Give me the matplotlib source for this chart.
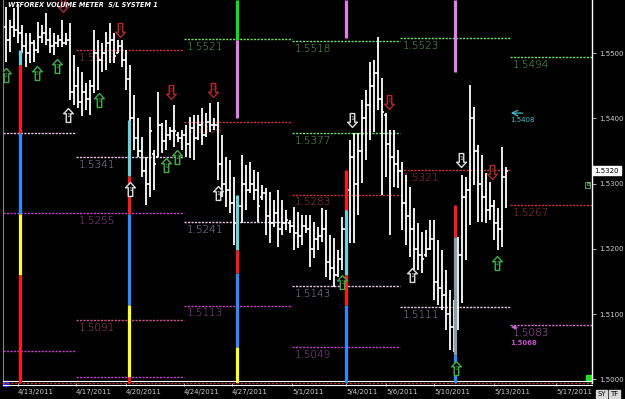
import numpy as np
import matplotlib
matplotlib.use("Agg")
import matplotlib.pyplot as plt
import matplotlib.transforms as mtransforms
from matplotlib.path import Path

# ---- price bars (one entry per bar) ----
highs = [1.5570, 1.5550, 1.5569, 1.5575, 1.5543, 1.5530, 1.5530, 1.5520, 1.5547, 1.5543,
         1.5561, 1.5538, 1.5530, 1.5527, 1.5550, 1.5530, 1.5546, 1.5497, 1.5478, 1.5471,
         1.5454, 1.5459, 1.5535, 1.5520, 1.5515, 1.5532, 1.5546, 1.5530, 1.5520, 1.5520,
         1.5504, 1.5481, 1.5436, 1.5400, 1.5371, 1.5341, 1.5402, 1.5351, 1.5440, 1.5393,
         1.5397, 1.5387, 1.5420, 1.5379, 1.5382, 1.5390, 1.5402, 1.5405, 1.5405, 1.5416,
         1.5408, 1.5423, 1.5400, 1.5425, 1.5374, 1.5341, 1.5336, 1.5310, 1.5279, 1.5344,
         1.5328, 1.5333, 1.5321, 1.5318, 1.5298, 1.5293, 1.5287, 1.5275, 1.5290, 1.5275,
         1.5260, 1.5244, 1.5264, 1.5256, 1.5252, 1.5252, 1.5252, 1.5241, 1.5234, 1.5263,
         1.5260, 1.5221, 1.5217, 1.5198, 1.5249, 1.5318, 1.5367, 1.5377, 1.5377, 1.5428,
         1.5443, 1.5486, 1.5489, 1.5524, 1.5462, 1.5408, 1.5382, 1.5382, 1.5351, 1.5333,
         1.5313, 1.5295, 1.5263, 1.5240, 1.5226, 1.5229, 1.5244, 1.5244, 1.5214, 1.5198,
         1.5168, 1.5137, 1.5122, 1.5218, 1.5313, 1.5310, 1.5451, 1.5417, 1.5359, 1.5344,
         1.5316, 1.5302, 1.5275, 1.5263, 1.5356, 1.5325]
lows = [1.5486, 1.5501, 1.5524, 1.5515, 1.5500, 1.5478, 1.5485, 1.5486, 1.5500, 1.5515,
        1.5512, 1.5500, 1.5497, 1.5509, 1.5509, 1.5512, 1.5428, 1.5420, 1.5416, 1.5403,
        1.5413, 1.5405, 1.5439, 1.5443, 1.5471, 1.5474, 1.5485, 1.5485, 1.5500, 1.5478,
        1.5443, 1.5387, 1.5351, 1.5341, 1.5310, 1.5267, 1.5279, 1.5290, 1.5341, 1.5347,
        1.5351, 1.5367, 1.5356, 1.5364, 1.5351, 1.5341, 1.5339, 1.5336, 1.5367, 1.5359,
        1.5371, 1.5379, 1.5382, 1.5306, 1.5279, 1.5264, 1.5255, 1.5206, 1.5203, 1.5240,
        1.5260, 1.5286, 1.5275, 1.5241, 1.5275, 1.5221, 1.5209, 1.5234, 1.5203, 1.5221,
        1.5229, 1.5224, 1.5198, 1.5201, 1.5206, 1.5224, 1.5172, 1.5186, 1.5198, 1.5211,
        1.5157, 1.5152, 1.5142, 1.5157, 1.5168, 1.5214, 1.5209, 1.5209, 1.5252, 1.5301,
        1.5336, 1.5367, 1.5379, 1.5413, 1.5283, 1.5310, 1.5221, 1.5295, 1.5293, 1.5229,
        1.5206, 1.5188, 1.5168, 1.5168, 1.5163, 1.5188, 1.5198, 1.5122, 1.5114, 1.5106,
        1.5076, 1.5045, 1.5042, 1.5076, 1.5117, 1.5183, 1.5237, 1.5298, 1.5241, 1.5241,
        1.5240, 1.5244, 1.5214, 1.5198, 1.5203, 1.5263]
opens = [1.5540, 1.5520, 1.5540, 1.5535, 1.5530, 1.5510, 1.5500, 1.5515, 1.5505, 1.5525,
         1.5530, 1.5520, 1.5510, 1.5515, 1.5520, 1.5515, 1.5520, 1.5440, 1.5450, 1.5425,
         1.5440, 1.5430, 1.5450, 1.5500, 1.5490, 1.5500, 1.5515, 1.5520, 1.5500, 1.5510,
         1.5490, 1.5460, 1.5400, 1.5370, 1.5350, 1.5320, 1.5300, 1.5345, 1.5341, 1.5390,
         1.5365, 1.5375, 1.5380, 1.5375, 1.5370, 1.5375, 1.5360, 1.5385, 1.5370, 1.5390,
         1.5375, 1.5395, 1.5390, 1.5390, 1.5330, 1.5300, 1.5290, 1.5270, 1.5240, 1.5265,
         1.5300, 1.5290, 1.5300, 1.5290, 1.5280, 1.5285, 1.5250, 1.5240, 1.5255, 1.5230,
         1.5240, 1.5240, 1.5235, 1.5225, 1.5220, 1.5235, 1.5230, 1.5200, 1.5215, 1.5220,
         1.5230, 1.5180, 1.5170, 1.5160, 1.5185, 1.5230, 1.5290, 1.5340, 1.5300, 1.5350,
         1.5400, 1.5420, 1.5450, 1.5470, 1.5430, 1.5405, 1.5360, 1.5340, 1.5330, 1.5320,
         1.5270, 1.5250, 1.5230, 1.5200, 1.5190, 1.5190, 1.5200, 1.5215, 1.5150, 1.5140,
         1.5130, 1.5100, 1.5080, 1.5110, 1.5190, 1.5280, 1.5290, 1.5400, 1.5350, 1.5300,
         1.5280, 1.5260, 1.5265, 1.5240, 1.5230, 1.5310]
closes = [1.5520, 1.5540, 1.5535, 1.5530, 1.5510, 1.5500, 1.5515, 1.5505, 1.5525, 1.5530,
          1.5520, 1.5510, 1.5515, 1.5520, 1.5515, 1.5520, 1.5440, 1.5450, 1.5425, 1.5440,
          1.5430, 1.5450, 1.5500, 1.5490, 1.5500, 1.5515, 1.5520, 1.5495, 1.5510, 1.5490,
          1.5460, 1.5400, 1.5370, 1.5350, 1.5320, 1.5300, 1.5380, 1.5330, 1.5390, 1.5365,
          1.5375, 1.5380, 1.5380, 1.5370, 1.5375, 1.5360, 1.5385, 1.5370, 1.5390, 1.5375,
          1.5395, 1.5390, 1.5390, 1.5330, 1.5300, 1.5290, 1.5270, 1.5240, 1.5265, 1.5300,
          1.5290, 1.5300, 1.5290, 1.5265, 1.5285, 1.5250, 1.5240, 1.5255, 1.5230, 1.5240,
          1.5245, 1.5235, 1.5225, 1.5220, 1.5235, 1.5230, 1.5200, 1.5215, 1.5220, 1.5230,
          1.5180, 1.5170, 1.5160, 1.5185, 1.5230, 1.5290, 1.5340, 1.5300, 1.5350, 1.5400,
          1.5420, 1.5450, 1.5470, 1.5430, 1.5410, 1.5360, 1.5340, 1.5330, 1.5320, 1.5270,
          1.5250, 1.5230, 1.5200, 1.5190, 1.5185, 1.5200, 1.5215, 1.5150, 1.5140, 1.5130,
          1.5100, 1.5080, 1.5110, 1.5190, 1.5280, 1.5290, 1.5400, 1.5350, 1.5300, 1.5280,
          1.5260, 1.5265, 1.5240, 1.5230, 1.5310, 1.5320]

# date labels and the bar where each date starts
date_labels = ['4/13/2011', '4/17/2011', '4/20/2011', '4/24/2011', '4/27/2011', '5/1/2011',
               '5/4/2011', '5/6/2011', '5/10/2011', '5/13/2011', '5/17/2011']
date_bars = [3, 17.5, 30, 44.5, 56.5, 71.5, 85, 95, 107, 122, 137.5]

# S/L levels: price, first bar, last bar, kind, label
level_prices = [1.5521, 1.5518, 1.5523, 1.5494, 1.5377, 1.5505, 1.5394, 1.5283, 1.5321, 1.5267,
                1.5255, 1.5255, 1.5091, 1.5004, 1.5044, 1.5113, 1.5049, 1.5083,
                1.5377, 1.5341, 1.5241, 1.5143, 1.5111]
level_from = [44.5, 71.5, 98.5, 126, 71.5, 17.5, 44.5, 71.5, 98.5, 126,
              -0.75, 17.5, 17.5, 17.5, -0.75, 44.5, 71.5, 126,
              -0.75, 17.5, 44.5, 71.5, 98.5]
level_to = [71.5, 98.5, 126, 146.5, 98.5, 44.5, 71.5, 98.5, 126, 146.5,
            17.5, 44.5, 44.5, 44.5, 17.5, 71.5, 98.5, 146.5,
            17.5, 44.5, 71.5, 98.5, 126]
level_kind = ['green', 'green', 'green', 'green', 'green', 'red', 'red', 'red', 'red', 'red',
              'magenta', 'magenta', 'rose', 'magenta', 'magenta', 'magenta', 'magenta', 'pink',
              'pale', 'pale', 'pale', 'pale', 'pale']
level_text = ['1.5521', '1.5518', '1.5523', '1.5494', '1.5377', '1.5505', '1.5394', '1.5283',
              '1.5321', '1.5267', '', '1.5255', '1.5091', '', '', '1.5113', '1.5049', '1.5083',
              '', '1.5341', '1.5241', '1.5143', '1.5111']

# volume meter columns: bar, top price, bottom price, state
seg_bar = [3.5, 3.5, 3.5, 3.5, 3.5,
           30.75, 30.75, 30.75, 30.75, 30.75,
           57.75, 57.75, 57.75, 57.75, 57.75, 57.75,
           85, 85, 85, 85, 85,
           112.25, 112.25, 112.25, 112.25]
seg_top = [1.5505, 1.5482, 1.5377, 1.5253, 1.5160,
           1.5397, 1.5312, 1.5253, 1.5114, 1.5004,
           1.5581, 1.5520, 1.5283, 1.5198, 1.5163, 1.5050,
           1.5581, 1.5321, 1.5260, 1.5160, 1.5114,
           1.5581, 1.5267, 1.5218, 1.5037]
seg_bottom = [1.5482, 1.5377, 1.5253, 1.5160, 1.4994,
              1.5312, 1.5253, 1.5114, 1.5004, 1.4994,
              1.5520, 1.5400, 1.5198, 1.5163, 1.5050, 1.4994,
              1.5523, 1.5260, 1.5160, 1.5114, 1.4994,
              1.5471, 1.5218, 1.5037, 1.4994]
seg_state = ['cyan', 'red', 'blue', 'yellow', 'red',
             'cyan', 'red', 'blue', 'yellow', 'red',
             'green', 'violet', 'cyan', 'red', 'blue', 'yellow',
             'violet', 'red', 'cyan', 'red', 'blue',
             'violet', 'red', 'grey', 'blue']

# entry/exit signals: bar, price, direction, type, count
sig_bar = [0, 7.75, 12.75, 23.25, 42.75, 40, 84, 122.75, 112.5,
           15.5, 31, 53, 101.5, 86.5, 113.75,
           14.25, 28.5, 41.25, 51.75, 95.75, 121.5]
sig_price = [1.5466, 1.5469, 1.5480, 1.5428, 1.5341, 1.5328, 1.5149, 1.5178, 1.5018,
             1.5405, 1.5292, 1.5286, 1.5160, 1.5397, 1.5336,
             1.5573, 1.5535, 1.5440, 1.5443, 1.5425, 1.5318]
sig_dir = ['up'] * 13 + ['down'] * 8
sig_type = ['green'] * 9 + ['white'] * 6 + ['red'] * 6
sig_count = ['2', '3', '2', '1', '2', '1', '1', '2', '1',
             '1', '1', '1', '1', '1', '1',
             '2', '2', '2', '2', '1', '1']

price_ticks = [1.5000, 1.5100, 1.5200, 1.5300, 1.5400, 1.5500]
last_price = 1.5320

# ---- styles ----
line_col = {'green': '#6fd86f', 'red': '#c83232', 'magenta': '#c040c8', 'rose': '#d0508a',
            'pink': '#d070d0', 'pale': '#e8c8e8'}
text_col = {'green': '#5cb85c', 'red': '#b83a3a', 'magenta': '#a848b0', 'rose': '#b0507a',
            'pink': '#c060c8', 'pale': '#a090c0'}
state_col = {'cyan': '#6fd0dc', 'red': '#ff1a1a', 'blue': '#2a8cff', 'yellow': '#ffff20',
             'green': '#10e010', 'violet': '#e080e8', 'grey': '#8aa0a8'}
sig_col = {'green': '#3fae49', 'white': '#e0e0e0', 'red': '#b02828'}

up_arrow = Path([(0, 1), (-0.7, 0.25), (-0.32, 0.25), (-0.32, -1), (0.32, -1),
                 (0.32, 0.25), (0.7, 0.25), (0, 1)], closed=True)
down_arrow = Path([(0, -1), (-0.7, -0.25), (-0.32, -0.25), (-0.32, 1), (0.32, 1),
                   (0.32, -0.25), (0.7, -0.25), (0, -1)], closed=True)

fig = plt.figure(figsize=(6.25, 3.99), dpi=100, facecolor='black')
ax = fig.add_axes([3 / 625, 16 / 399, 589 / 625, 383 / 399])
ax.set_facecolor('black')
ax.set_xlim(-0.75, 146.5)
ax.set_ylim(1.49946, 1.55812)

# S/L levels
for p, a, b, k, t in zip(level_prices, level_from, level_to, level_kind, level_text):
    ax.plot([a, b], [p, p], color=line_col[k], lw=1.0, ls=(0, (1.6, 0.9)), zorder=2)
    if t:
        ax.annotate(t, (a, p), xytext=(2, -2), textcoords='offset points', va='top', ha='left',
                    color=text_col[k], fontsize=7.5, fontweight='light', zorder=2)

# price bars
x = np.arange(len(highs))
ax.vlines(x, lows, highs, color='white', lw=1.3, zorder=3)
ax.hlines(opens, x - 0.6, x, color='white', lw=1.2, zorder=3)
ax.hlines(closes, x, x + 0.6, color='white', lw=1.2, zorder=3)

# volume meter columns
for b, t, btm, s in zip(seg_bar, seg_top, seg_bottom, seg_state):
    ax.plot([b, b], [t, btm], color=state_col[s], lw=2.3, solid_capstyle='butt', zorder=4)

# signal arrows
for b, p, d, k, n in zip(sig_bar, sig_price, sig_dir, sig_type, sig_count):
    ax.plot(b, p, marker=up_arrow if d == 'up' else down_arrow, ms=10, mfc='black',
            mec=sig_col[k], mew=1.0, zorder=5)
    ax.annotate(n, (b, p), xytext=(0, -0.5 if d == 'up' else 1), textcoords='offset points',
                ha='center', va='center', fontsize=4.5, color=sig_col[k], zorder=6)

# small arrows on the right
ax.annotate('', xy=(125.5, 1.5408), xytext=(129.8, 1.5408),
            arrowprops=dict(arrowstyle='->', color='#40c0d0', lw=0.9))
ax.text(126, 1.5402, '1.5408', color='#40c0d0', fontsize=5, va='top')
ax.annotate('', xy=(125.5, 1.5080), xytext=(128.5, 1.5080),
            arrowprops=dict(arrowstyle='-|>', color='#d060d0', lw=0.9, mutation_scale=6))
ax.text(126, 1.5060, '1.5068', color='#c050c8', fontsize=5, fontweight='bold', va='top')

# title
ax.text(0.009, 0.995, 'WTFOREX VOLUME METER  S/L SYSTEM 1', transform=ax.transAxes,
        color='white', fontsize=4.7, fontweight='bold', fontstyle='italic', va='top', zorder=7)

# axes styling
for s in ['top', 'left', 'bottom']:
    ax.spines[s].set_visible(False)
ax.spines['right'].set_color('white')
ax.spines['right'].set_linewidth(1.0)
ax.yaxis.tick_right()
ax.set_yticks(price_ticks)
ax.set_yticklabels(['%.4f' % v for v in price_ticks])
ax.tick_params(axis='y', colors='#d0d0d0', labelsize=5, length=3, width=0.6, pad=2)
ax.set_xticks(date_bars)
ax.set_xticklabels(date_labels, ha='left')
ax.tick_params(axis='x', colors='#c8c8c8', labelsize=5, length=2, width=0.6, pad=2)

# left border and bottom double line
ax.plot([0, 0], [0, 1], transform=ax.transAxes, color='#808080', lw=0.8, clip_on=False)
ax.plot([0, 1], [0.006, 0.006], transform=ax.transAxes, color='white', lw=0.8, clip_on=False)
ax.plot([0, 1], [0.0, 0.0], transform=ax.transAxes, color='#c03030', lw=0.8,
        ls=(0, (2, 1.5)), clip_on=False)
ax.plot([0, 1], [-0.006, -0.006], transform=ax.transAxes, color='white', lw=0.8, clip_on=False)

# last price box and small markers
tr = mtransforms.blended_transform_factory(ax.transAxes, ax.transData)
ax.text(1.004, last_price, '%.4f' % last_price, transform=tr, fontsize=5, color='black',
        va='center', ha='left', bbox=dict(boxstyle='square,pad=0.25', fc='white', ec='white'))
ax.text(0.996, 1.5298, 'B', transform=tr, fontsize=4, color='#a0e0a0', va='center', ha='right',
        bbox=dict(boxstyle='square,pad=0.15', fc='black', ec='#60c060', lw=0.6))
ax.add_patch(plt.Rectangle((0.9895, 0.004), 0.0105, 0.017, transform=ax.transAxes,
                           color='#20e020', clip_on=False))
ax.add_patch(plt.Rectangle((0.0, -0.008), 0.009, 0.014, transform=ax.transAxes,
                           color='#2030d0', clip_on=False))
fig.text(597 / 625, 5 / 399, 'SY', fontsize=5, color='black', ha='left', va='center',
         bbox=dict(boxstyle='square,pad=0.2', fc='#d8d8d8', ec='#d8d8d8'))
fig.text(610 / 625, 5 / 399, 'TF', fontsize=5, color='black', ha='left', va='center',
         bbox=dict(boxstyle='square,pad=0.2', fc='#d8d8d8', ec='#d8d8d8'))

fig.savefig('out.png', dpi=100, facecolor='black')
